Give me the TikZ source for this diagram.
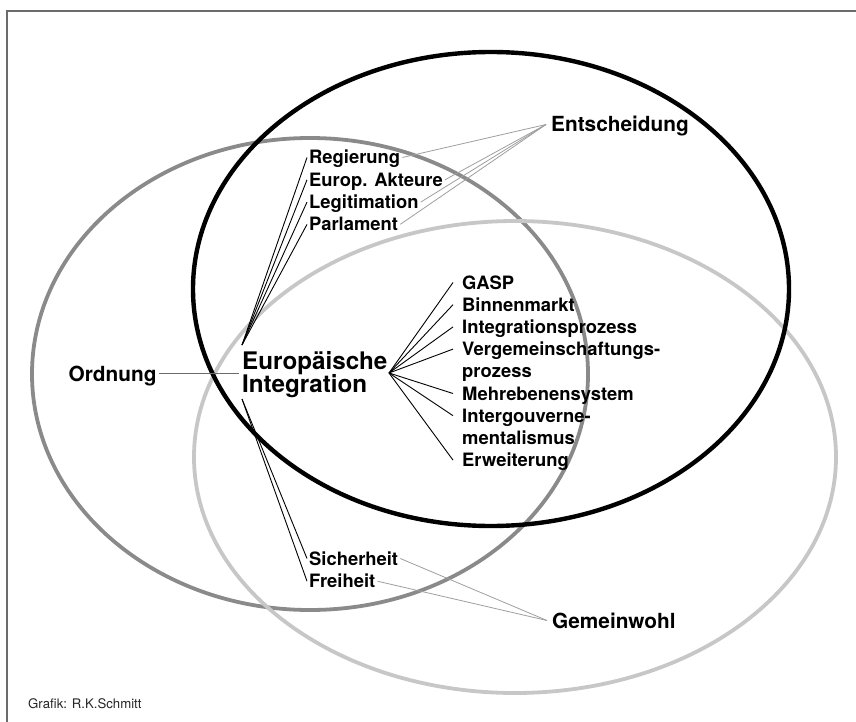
\documentclass[tikz,border=0pt]{standalone}
\usepackage{fontspec}
\setmainfont{TeX Gyre Heros}
\usepackage{tikz}

\definecolor{framegray}{gray}{0.42}
\definecolor{ordgray}{gray}{0.54}
\definecolor{gemgray}{gray}{0.78}
\definecolor{thingray}{gray}{0.62}

\tikzset{
  term/.style={anchor=base west, inner xsep=2pt, inner ysep=0pt, text height=13pt, text depth=0pt, font=\bfseries\fontsize{18.4}{18.4}\selectfont},
  termr/.style={term, inner xsep=9pt},
  head/.style={anchor=base west, inner xsep=5pt, inner ysep=0pt, text height=15pt, text depth=0pt, font=\bfseries\fontsize{20.8}{20.8}\selectfont},
  core/.style={anchor=base west, inner xsep=3pt, inner ysep=0pt, font=\bfseries\fontsize{24.2}{24.2}\selectfont},
  fanline/.style={black, line width=0.9pt},
  greyline/.style={thingray, line width=0.8pt}
}

\begin{document}
\begin{tikzpicture}[x=1pt,y=-1pt]
    \useasboundingbox (0,0) rectangle (856,722);

    %Frame
    \draw[framegray, line width=1.5pt] (856,11) -- (7,11) -- (7,722);

    %Shape: Ellipse Ordnung
    \draw[ordgray, line width=3.8pt] (310,374) ellipse [x radius=278pt, y radius=236pt];
    %Shape: Ellipse Gemeinwohl
    \draw[gemgray, line width=3.8pt] (515,457) ellipse [x radius=321pt, y radius=236pt];
    %Shape: Ellipse Entscheidung
    \draw[black, line width=4.4pt] (491,289) ellipse [x radius=298pt, y radius=237pt];

    % Text Node
    \node[core] (eu1) at (239,369) {Europäische};
    \node[core] (eu2) at (239,392) {Integration};
    % Text Node
    \node[head, inner xsep=2.5pt] (ord) at (66,381) {Ordnung};
    \node[head] (ent) at (546,132) {Entscheidung};
    \node[head] (gem) at (547,628) {Gemeinwohl};

    % Text Node
    \node[term] (reg) at (307,164) {Regierung};
    \node[term] (akt) at (307,186.3) {Europ. Akteure};
    \node[term] (leg) at (307,208.6) {Legitimation};
    \node[term] (par) at (307,230.9) {Parlament};

    % Text Node
    \node[termr] (gasp) at (453,289) {GASP};
    \node[termr] (bin) at (453,311.2) {Binnenmarkt};
    \node[termr] (ipro) at (453,333.4) {Integrationsprozess};
    \node[termr] (verg) at (453,355.6) {Vergemeinschaftungs-};
    \node[termr] (vergb) at (453,377.8) {prozess};
    \node[termr] (mehr) at (453,400) {Mehrebenensystem};
    \node[termr] (igov) at (453,422.2) {Intergouverne-};
    \node[termr] (igovb) at (453,444.4) {mentalismus};
    \node[termr] (erw) at (453,466.6) {Erweiterung};

    % Text Node
    \node[term] (sich) at (307,565) {Sicherheit};
    \node[term] (frei) at (307,587.7) {Freiheit};

    % Text Node
    \node[anchor=base west, inner sep=0pt, font=\fontsize{13.2}{13.2}\selectfont, text=black!85] (credit) at (28,708) {Grafik: R.K.Schmitt};

    %Fan points
    \coordinate (fanU) at (242,345);
    \coordinate (fanD) at (242,399);
    \coordinate (fanR) at (389,373);

    %Straight Lines
    \draw[framegray, line width=1.5pt] (ord.east) -- (ord.east -| eu1.west);

    %Straight Lines up
    \draw[fanline] (fanU) -- (reg.west);
    \draw[fanline] (fanU) -- (akt.west);
    \draw[fanline] (fanU) -- (leg.west);
    \draw[fanline] (fanU) -- (par.west);

    %Straight Lines right
    \draw[fanline] (fanR) -- (gasp.west);
    \draw[fanline] (fanR) -- (bin.west);
    \draw[fanline] (fanR) -- (ipro.west);
    \draw[fanline] (fanR) -- (verg.west);
    \draw[fanline] (fanR) -- (mehr.west);
    \draw[fanline] (fanR) -- (igov.west);
    \draw[fanline] (fanR) -- (erw.west);

    %Straight Lines down
    \draw[fanline] (fanD) -- (sich.west);
    \draw[fanline] (fanD) -- (frei.west);

    %Straight Lines to Entscheidung
    \draw[greyline] (reg.east) -- (ent.west);
    \draw[greyline] (akt.east) -- (ent.west);
    \draw[greyline] (leg.east) -- (ent.west);
    \draw[greyline] (par.east) -- (ent.west);

    %Straight Lines to Gemeinwohl
    \draw[greyline] (sich.east) -- (gem.west);
    \draw[greyline] (frei.east) -- (gem.west);

\end{tikzpicture}
\end{document}
